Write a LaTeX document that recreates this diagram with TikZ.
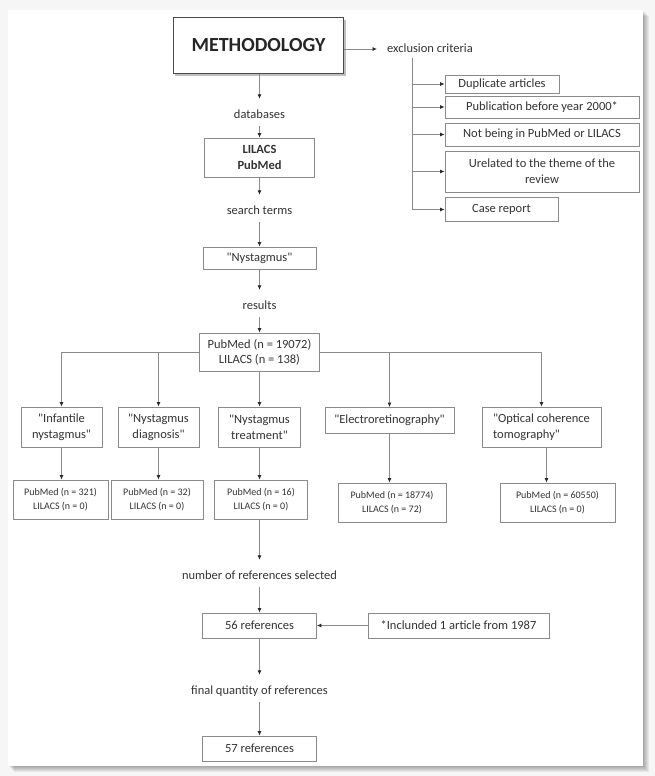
\documentclass[tikz,border=0pt]{standalone}
\usepackage{fontspec}
\setmainfont{Carlito}[Ligatures=TeXOff]
\usetikzlibrary{arrows.meta}
\definecolor{txt}{HTML}{333333}
\definecolor{lncol}{HTML}{8A8A8A}
\definecolor{tipc}{HTML}{2A2A2A}
\definecolor{methc}{HTML}{4A4A4A}
\definecolor{bgc}{HTML}{F6F6F6}
\begin{document}
\begin{tikzpicture}[x=1pt,y=-1pt,
  box/.style={draw=lncol, line width=0.8pt, fill=white, text=txt, align=center, inner sep=0pt, font=\fontsize{12.5}{16}\selectfont},
  sbox/.style={box, font=\fontsize{10}{14.3}\selectfont},
  lbl/.style={text=txt, inner sep=0pt, text height=19pt, text depth=8pt, anchor=base, font=\fontsize{12.5}{15}\selectfont},
  arr/.style={draw=lncol, line width=0.8pt, -{Latex[length=4.5pt,width=4pt,color=tipc]}},
  plain/.style={draw=lncol, line width=0.8pt}
]
\useasboundingbox (0,0) rectangle (655,776);
\fill[bgc] (0,0) rectangle (655,776);
% card shadow
\foreach \s in {1,...,6}{\fill[black,opacity=0.06] (8+\s,10+\s) rectangle (643+\s,766+\s);}
\fill[white] (8,10) rectangle (643,766);

% METHODOLOGY
\fill[black,opacity=0.25] (175,20) rectangle (346,76);
\node[box, draw=methc, line width=1.8pt, minimum width=170pt, minimum height=56pt, text=black!85,
  font=\fontsize{20}{24}\selectfont\bfseries] (meth) at (258.5,45.5) {METHODOLOGY};

% exclusion criteria
\coordinate (exa) at (377,49);
\node[text=txt, inner sep=0pt, anchor=base west, font=\fontsize{12.5}{15}\selectfont] (excl) at (387,52.5) {exclusion criteria};
\draw[arr] (meth.east |- exa) -- (exa);
\coordinate (trunk) at (412,58);

\node[box, minimum width=114pt, minimum height=18pt] (dup) at (502,84) {Duplicate articles};
\node[box, minimum width=194pt, minimum height=22pt] (pub) at (542,107) {Publication before year 2000*};
\node[box, minimum width=194pt, minimum height=23pt] (notb) at (542,134.5) {Not being in PubMed or LILACS};
\node[box, minimum width=194pt, minimum height=41pt] (ur) at (542,171.5) {Urelated to the theme of the\\review};
\node[box, minimum width=113pt, minimum height=24pt] (casr) at (501.5,209.5) {Case report};
\foreach \b in {dup,pub,notb,ur,casr}{\draw[arr] (trunk) |- (\b.west);}

% central column
\node[lbl] (db) at (259.5,118) {databases};
\node[box, minimum width=110pt, minimum height=39pt, font=\fontsize{12.5}{16.5}\selectfont\bfseries] (lil) at (259.5,157.5) {LILACS\\PubMed};
\node[lbl] (st) at (259.5,214) {search terms};
\node[box, minimum width=113pt, minimum height=22pt] (nys) at (259.5,258) {"Nystagmus"};
\node[lbl] (resl) at (259.5,309) {results};
\node[box, minimum width=120pt, minimum height=38pt, font=\fontsize{12.5}{15}\selectfont] (res) at (259.5,352) {PubMed (n = 19072)\\LILACS (n = 138)};

\draw[arr] (meth.south -| db.north) -- (db.north);
\draw[arr] (db.south) -- (lil.north);
\draw[arr] (lil.south) -- (st.north);
\draw[arr] (st.south) -- (nys.north);
\draw[arr] (nys.south) -- (resl.north);
\draw[arr] (resl.south) -- (res.north);

% search terms
\node[box, minimum width=81pt, minimum height=40pt] (b1) at (61.5,427) {"Infantile\\nystagmus"};
\node[box, minimum width=81pt, minimum height=40pt] (b2) at (158.5,427) {"Nystagmus\\diagnosis"};
\node[box, minimum width=82pt, minimum height=40pt] (b3) at (259.5,427) {"Nystagmus\\treatment"};
\node[box, minimum width=129pt, minimum height=26pt] (b4) at (389.5,420.5) {"Electroretinography"};
\node[box, minimum width=119pt, minimum height=40pt, align=left] (b5) at (541.5,427) {"Optical coherence\\tomography"};

\draw[arr] (res.west) -| (b1.north);
\draw[arr] (res.west) -| (b2.north);
\draw[arr] (res.south) -- (b3.north);
\draw[arr] (res.east) -| (b4.north);
\draw[arr] (res.east) -| (b5.north);

\node[sbox, minimum width=95pt, minimum height=39pt] (c1) at (60.5,499.5) {PubMed (n = 321)\\LILACS (n = 0)};
\node[sbox, minimum width=92pt, minimum height=39pt] (c2) at (157,499.5) {PubMed (n = 32)\\LILACS (n = 0)};
\node[sbox, minimum width=93pt, minimum height=39pt] (c3) at (261,499.5) {PubMed (n = 16)\\LILACS (n = 0)};
\node[sbox, minimum width=108pt, minimum height=39pt] (c4) at (392,502.5) {PubMed (n = 18774)\\LILACS (n = 72)};
\node[sbox, minimum width=115pt, minimum height=39pt] (c5) at (557.5,502.5) {PubMed (n = 60550)\\LILACS (n = 0)};

\draw[arr] (b1.south) -- (b1.south |- c1.north);
\draw[arr] (b2.south) -- (b2.south |- c2.north);
\draw[arr] (b3.south) -- (b3.south |- c3.north);
\draw[arr] (b4.south) -- (b4.south |- c4.north);
\draw[arr] ([xshift=5pt]b5.south) -- ([xshift=5pt]b5.south |- c5.north);

% final part
\node[lbl] (num) at (259.5,579) {number of references selected};
\node[box, minimum width=114pt, minimum height=25pt] (r56) at (259.5,625.5) {56 references};
\node[box, minimum width=181pt, minimum height=25pt] (inc) at (458.5,625.5) {*Inclunded 1 article from 1987};
\node[lbl] (fin) at (259.5,694) {final quantity of references};
\node[box, minimum width=114pt, minimum height=25pt] (r57) at (259.5,748.5) {57 references};

\draw[arr] (b3.south |- c3.south) -- (num.north);
\draw[arr] (num.south) -- (r56.north);
\draw[arr] (inc.west) -- (r56.east);
\draw[arr] (r56.south) -- (fin.north);
\draw[arr] (fin.south) -- (r57.north);
\end{tikzpicture}
\end{document}
